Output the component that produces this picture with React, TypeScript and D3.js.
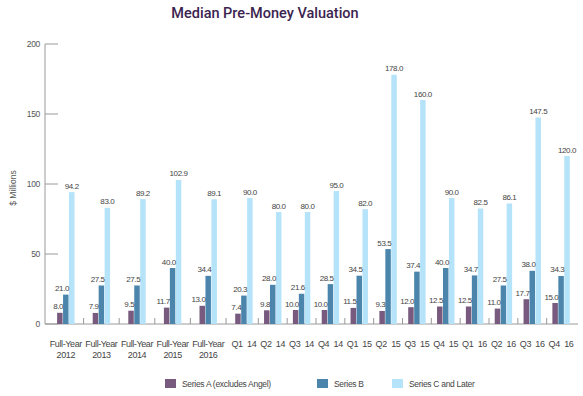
import React from 'react';
import * as d3 from 'd3';

const yearCats = ['Full-Year 2012', 'Full-Year 2013', 'Full-Year 2014', 'Full-Year 2015', 'Full-Year 2016'];
const quarterCats = ['Q1 14', 'Q2 14', 'Q3 14', 'Q4 14', 'Q1 15', 'Q2 15', 'Q3 15', 'Q4 15', 'Q1 16', 'Q2 16', 'Q3 16', 'Q4 16'];
const categories = [...yearCats, ...quarterCats];

const seriesNames = ['Series A (excludes Angel)', 'Series B', 'Series C and Later'];
const seriesA = [8.0, 7.9, 9.5, 11.7, 13.0, 7.4, 9.8, 10.0, 10.0, 11.5, 9.3, 12.0, 12.5, 12.5, 11.0, 17.7, 15.0];
const seriesB = [21.0, 27.5, 27.5, 40.0, 34.4, 20.3, 28.0, 21.6, 28.5, 34.5, 53.5, 37.4, 40.0, 34.7, 27.5, 38.0, 34.3];
const seriesC = [94.2, 83.0, 89.2, 102.9, 89.1, 90.0, 80.0, 80.0, 95.0, 82.0, 178.0, 160.0, 90.0, 82.5, 86.1, 147.5, 120.0];
const yTicks = [0, 50, 100, 150, 200];

const colors = ['#775a7d', '#4b85ac', '#b5e3fa'];
const font = '"Liberation Sans", Arial, sans-serif';

export default function App() {
  const width = 583;
  const height = 396;
  const axisX = 45;
  const y = d3.scaleLinear().domain([0, 200]).range([324, 44]);

  // full-year groups are drawn wider than the quarterly ones
  const xYear = d3.scaleBand().domain(yearCats).range([48, 226]);
  const xQuarter = d3.scaleBand().domain(quarterCats).range([229.5, 575.5]);
  const groupX = (c: string) => (yearCats.includes(c) ? xYear(c)! + xYear.bandwidth() / 2 : xQuarter(c)! + xQuarter.bandwidth() / 2);
  const inner = d3.scaleBand().domain(seriesNames).range([-8.7, 8.7]).paddingInner(0.08);

  const data = [seriesA, seriesB, seriesC];
  const tickXs = categories.slice(0, -1).map((c, i) => (groupX(c) + groupX(categories[i + 1])) / 2);

  const marks = categories.flatMap((c, i) =>
    seriesNames.map((s, k) => ({ key: c + s, k, v: data[k][i], x: groupX(c) + inner(s)! }))
  );

  const legendItems = [
    { name: seriesNames[0], x: 165 },
    { name: seriesNames[1], x: 317 },
    { name: seriesNames[2], x: 392 },
  ];

  return (
    <svg width={width} height={height} style={{ position: 'absolute', left: 0, top: 0, background: '#fff' }} fontFamily={font}>
      <text x={265} y={18} textAnchor="middle" fontSize={14.5} fontWeight={500} fontFamily="Roboto, sans-serif" fill="#3b2450">
        Median Pre-Money Valuation
      </text>

      <text transform={`translate(16,188) rotate(-90)`} textAnchor="middle" fontSize={8.5} fill="#555">
        $ Millions
      </text>

      {/* y axis */}
      <line x1={axisX} x2={axisX} y1={y(200)} y2={y(0)} stroke="#9a9a9a" strokeWidth={1} />
      {yTicks.map((t) => (
        <g key={t}>
          <line x1={axisX} x2={axisX + 13} y1={y(t)} y2={y(t)} stroke="#9a9a9a" strokeWidth={1} />
          <text x={40} y={y(t) + 3} textAnchor="end" fontSize={8.5} fill="#555" letterSpacing={-0.3}>
            {t}
          </text>
        </g>
      ))}

      {/* x axis */}
      <line x1={axisX} x2={578} y1={y(0)} y2={y(0)} stroke="#9a9a9a" strokeWidth={1} />
      {tickXs.map((tx, i) => (
        <line key={i} x1={tx} x2={tx} y1={y(0)} y2={y(0) - 6} stroke="#9a9a9a" strokeWidth={1} />
      ))}

      {/* bars */}
      {marks.map((m) => (
        <rect key={m.key} x={m.x} y={y(m.v)} width={inner.bandwidth()} height={y(0) - y(m.v)} fill={colors[m.k]} />
      ))}

      {/* value labels: A and B end at their bar's right edge, C is centred */}
      {marks.map((m) => {
        const last = m.k === 2;
        return (
          <text
            key={m.key}
            x={last ? m.x + inner.bandwidth() / 2 : m.x + inner.bandwidth() + 0.5}
            y={y(m.v) - 3.5}
            textAnchor={last ? 'middle' : 'end'}
            fontSize={8}
            fill="#444"
            letterSpacing={-0.4}
          >
            {m.v.toFixed(1)}
          </text>
        );
      })}

      {/* category labels */}
      {categories.map((c) => {
        const isYear = yearCats.includes(c);
        const cx = groupX(c);
        return isYear ? (
          <text key={c} x={cx} textAnchor="middle" fontSize={9} fill="#444" letterSpacing={-0.4}>
            <tspan x={cx} y={347}>Full-Year</tspan>
            <tspan x={cx} y={358}>{c.split(' ')[1]}</tspan>
          </text>
        ) : (
          <text key={c} x={cx} y={347} textAnchor="middle" fontSize={9} fill="#444" letterSpacing={-0.3} wordSpacing={2}>
            {c}
          </text>
        );
      })}

      {/* legend */}
      {legendItems.map((l, k) => (
        <g key={l.name}>
          <rect x={l.x} y={379} width={11} height={9} fill={colors[k]} />
          <text x={l.x + 17} y={387} fontSize={8.5} fill="#444" letterSpacing={-0.3}>
            {l.name}
          </text>
        </g>
      ))}
    </svg>
  );
}
